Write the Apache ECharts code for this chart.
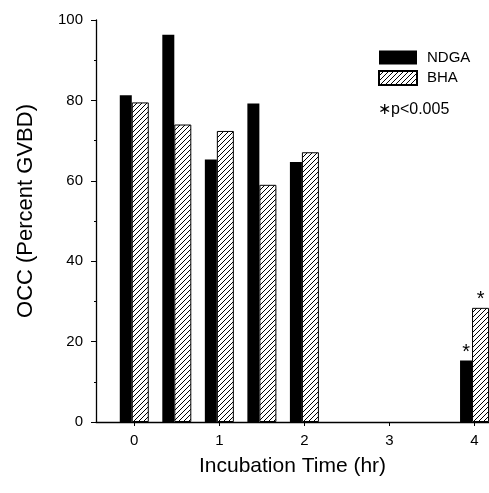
<!DOCTYPE html>
<html>
<head>
<meta charset="utf-8">
<script src="https://cdn.jsdelivr.net/npm/echarts@6/dist/echarts.min.js"></script>
<style>html,body{margin:0;padding:0;background:#fff;}#c{width:489px;height:493px;}</style>
</head>
<body>
<div id="c"></div>
<script>
const times = [0, 0.5, 1, 1.5, 2, 4];
const ndga = [81.3, 96.3, 65.3, 79.2, 64.7, 15.3];
const bha = [79.5, 74.0, 72.4, 59.0, 67.1, 28.4];
const significant = [false, false, false, false, false, true];
const xTicks = [0, 1, 2, 3, 4];
const yTicks = [0, 20, 40, 60, 80, 100];

function hatch() {
  const s = 5;
  const c = document.createElement('canvas');
  c.width = s; c.height = s;
  const g = c.getContext('2d');
  g.fillStyle = '#fff'; g.fillRect(0, 0, s, s);
  g.strokeStyle = '#000'; g.lineWidth = 1;
  g.beginPath();
  g.moveTo(-1, s + 1); g.lineTo(s + 1, -1);
  g.moveTo(-1, 1); g.lineTo(1, -1);
  g.moveTo(s - 1, s + 1); g.lineTo(s + 1, s - 1);
  g.stroke();
  return c;
}
const pat = { image: hatch(), repeat: 'repeat' };

const font = 'Liberation Sans, Arial, sans-serif';
const chart = echarts.init(document.getElementById('c'), null, { renderer: 'canvas' });
chart.setOption({
  animation: false,
  backgroundColor: '#fff',
  textStyle: { fontFamily: font, color: '#000' },
  grid: { left: 96, right: 0, top: 20, bottom: 71 },
  legend: {
    orient: 'vertical', left: 373, top: 45, itemWidth: 38, itemHeight: 14, itemGap: 5,
    icon: 'rect',
    textStyle: { fontFamily: font, fontSize: 15, color: '#000', padding: [0, 0, 0, 5] },
    data: ['NDGA', 'BHA']
  },
  graphic: [{
    type: 'text', left: 378, top: 102,
    style: { text: '∗p<0.005', font: '16px ' + font, fill: '#000' }
  }],
  xAxis: {
    type: 'value', min: -0.45, max: 4.17,
    name: 'Incubation Time (hr)', nameLocation: 'middle', nameGap: 34,
    nameTextStyle: { fontSize: 21, fontFamily: font, color: '#000' },
    axisLine: { onZero: false, lineStyle: { color: '#000', width: 1.3 } },
    axisTick: { show: true, length: 4, customValues: xTicks, lineStyle: { color: '#000' } },
    axisLabel: { customValues: xTicks, fontSize: 15, color: '#000', margin: 11, fontFamily: font },
    minorTick: { show: false },
    splitLine: { show: false }
  },
  yAxis: {
    type: 'value', min: 0, max: 100, interval: 20,
    name: 'OCC (Percent GVBD)', nameLocation: 'middle', nameGap: 59, nameRotate: 90,
    nameTextStyle: { fontSize: 22, fontFamily: font, color: '#000', padding: [0, 0, 0, 20] },
    axisLine: { show: true, onZero: false, lineStyle: { color: '#000', width: 1.3 } },
    axisTick: { show: true, length: 5, lineStyle: { color: '#000' } },
    minorTick: { show: true, splitNumber: 2, length: 2, lineStyle: { color: '#000' } },
    axisLabel: { fontSize: 15, color: '#000', margin: 13, fontFamily: font,
      customValues: yTicks },
    splitLine: { show: false }
  },
  series: [
    {
      name: 'NDGA', type: 'bar', barWidth: 12, barGap: '0%',
      itemStyle: { color: '#000', borderColor: '#000', borderWidth: 0 },
      label: { show: true, position: 'top', distance: -2, fontSize: 20, color: '#000',
        formatter: p => significant[p.dataIndex] ? '*' : '' },
      data: times.map((t, i) => [t, ndga[i]])
    },
    {
      name: 'BHA', type: 'bar', barWidth: 17, barGap: '0%',
      itemStyle: { color: pat, borderColor: '#000', borderWidth: 1 },
      label: { show: true, position: 'top', distance: -2, fontSize: 20, color: '#000',
        formatter: p => significant[p.dataIndex] ? '*' : '' },
      data: times.map((t, i) => [t, bha[i]])
    }
  ]
});
</script>
</body>
</html>
